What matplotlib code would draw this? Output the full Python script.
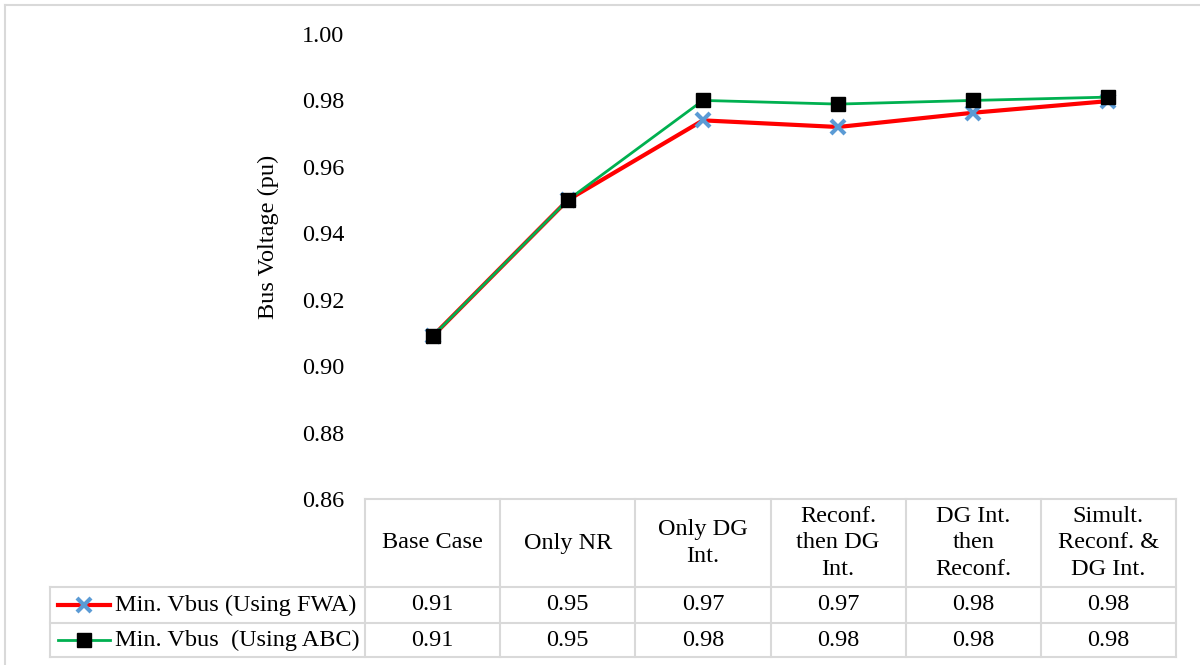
import matplotlib.pyplot as plt
from matplotlib.lines import Line2D
import numpy as np

plt.rcParams['font.family'] = ['Liberation Serif', 'DejaVu Serif']

categories = ['Base Case', 'Only NR', 'Only DG\nInt.', 'Reconf.\nthen DG\nInt.',
              'DG Int.\nthen\nReconf.', 'Simult.\nReconf. &\nDG Int.']
fwa = [0.909, 0.950, 0.974, 0.972, 0.9763, 0.9798]
abc = [0.909, 0.950, 0.980, 0.9789, 0.980, 0.981]
series_names = ['Min. Vbus (Using FWA)', 'Min. Vbus  (Using ABC)']
yticks = [0.86, 0.88, 0.90, 0.92, 0.94, 0.96, 0.98, 1.00]

W, H = 1200, 665
fig = plt.figure(figsize=(W / 100, H / 100), dpi=100)

def fx(x):
    return x / W

def fy(y):
    return 1 - y / H

grid_c = '#d9d9d9'
fs = 17.5

# outer chart border (only top/left visible)
fig.add_artist(Line2D([fx(5), fx(5)], [fy(5), fy(665)], color=grid_c, lw=1.5))
fig.add_artist(Line2D([fx(5), fx(1200)], [fy(5), fy(5)], color=grid_c, lw=1.5))

left, right = 365, 1176
top, bottom = 34, 499
ax = fig.add_axes([fx(left), fy(bottom), fx(right) - fx(left), fy(top) - fy(bottom)])
x = np.arange(len(categories))
ax.plot(x, fwa, color='red', lw=3, marker='x', markersize=10, mew=3,
        mec='#5b9bd5', zorder=3)
ax.plot(x, abc, color='#00b050', lw=2, marker='s', markersize=10,
        mfc='black', mec='black', zorder=4)
ax.set_xlim(-0.5, len(categories) - 0.5)
ax.set_ylim(0.86, 1.00)
ax.set_yticks(yticks)
ax.set_yticklabels([f'{v:.2f}' for v in yticks], fontsize=fs)
ax.tick_params(axis='y', length=0, pad=15)
ax.set_xticks([])
for s in ax.spines.values():
    s.set_visible(False)
ax.patch.set_visible(False)

fig.text(fx(268), fy(237), 'Bus Voltage (pu)', rotation=90, ha='center',
         va='center', fontsize=fs)

# data table
col_w = (right - left) / len(categories)
row_y = [499, 587, 623, 657]
leg_left = 50
lkw = dict(color=grid_c, lw=1.5)
fig.add_artist(Line2D([fx(left), fx(right)], [fy(row_y[0])] * 2, **lkw))
for yy in row_y[1:]:
    fig.add_artist(Line2D([fx(leg_left), fx(right)], [fy(yy)] * 2, **lkw))
fig.add_artist(Line2D([fx(leg_left)] * 2, [fy(row_y[1]), fy(row_y[3])], **lkw))
for i in range(len(categories) + 1):
    xx = left + i * col_w
    fig.add_artist(Line2D([fx(xx)] * 2, [fy(row_y[0]), fy(row_y[3])], **lkw))

for i, cat in enumerate(categories):
    cx = left + (i + 0.5) * col_w
    fig.text(fx(cx), fy((row_y[0] + row_y[1]) / 2), cat, ha='center', va='center',
             fontsize=fs, linespacing=1.35)
    fig.text(fx(cx), fy((row_y[1] + row_y[2]) / 2), f'{fwa[i]:.2f}', ha='center',
             va='center', fontsize=fs)
    fig.text(fx(cx), fy((row_y[2] + row_y[3]) / 2), f'{abc[i]:.2f}', ha='center',
             va='center', fontsize=fs)

# legend keys in the table
ky1 = (row_y[1] + row_y[2]) / 2
ky2 = (row_y[2] + row_y[3]) / 2
fig.add_artist(Line2D([fx(58), fx(110)], [fy(ky1)] * 2, color='red', lw=3))
fig.add_artist(Line2D([fx(84)], [fy(ky1)], marker='x', markersize=10, mew=3,
                      color='#5b9bd5', ls='none'))
fig.add_artist(Line2D([fx(58), fx(110)], [fy(ky2)] * 2, color='#00b050', lw=2))
fig.add_artist(Line2D([fx(84)], [fy(ky2)], marker='s', markersize=10,
                      color='black', ls='none'))
fig.text(fx(115), fy(ky1), series_names[0], ha='left', va='center', fontsize=fs)
fig.text(fx(115), fy(ky2), series_names[1], ha='left', va='center', fontsize=fs)

fig.savefig('out.png', dpi=100)
